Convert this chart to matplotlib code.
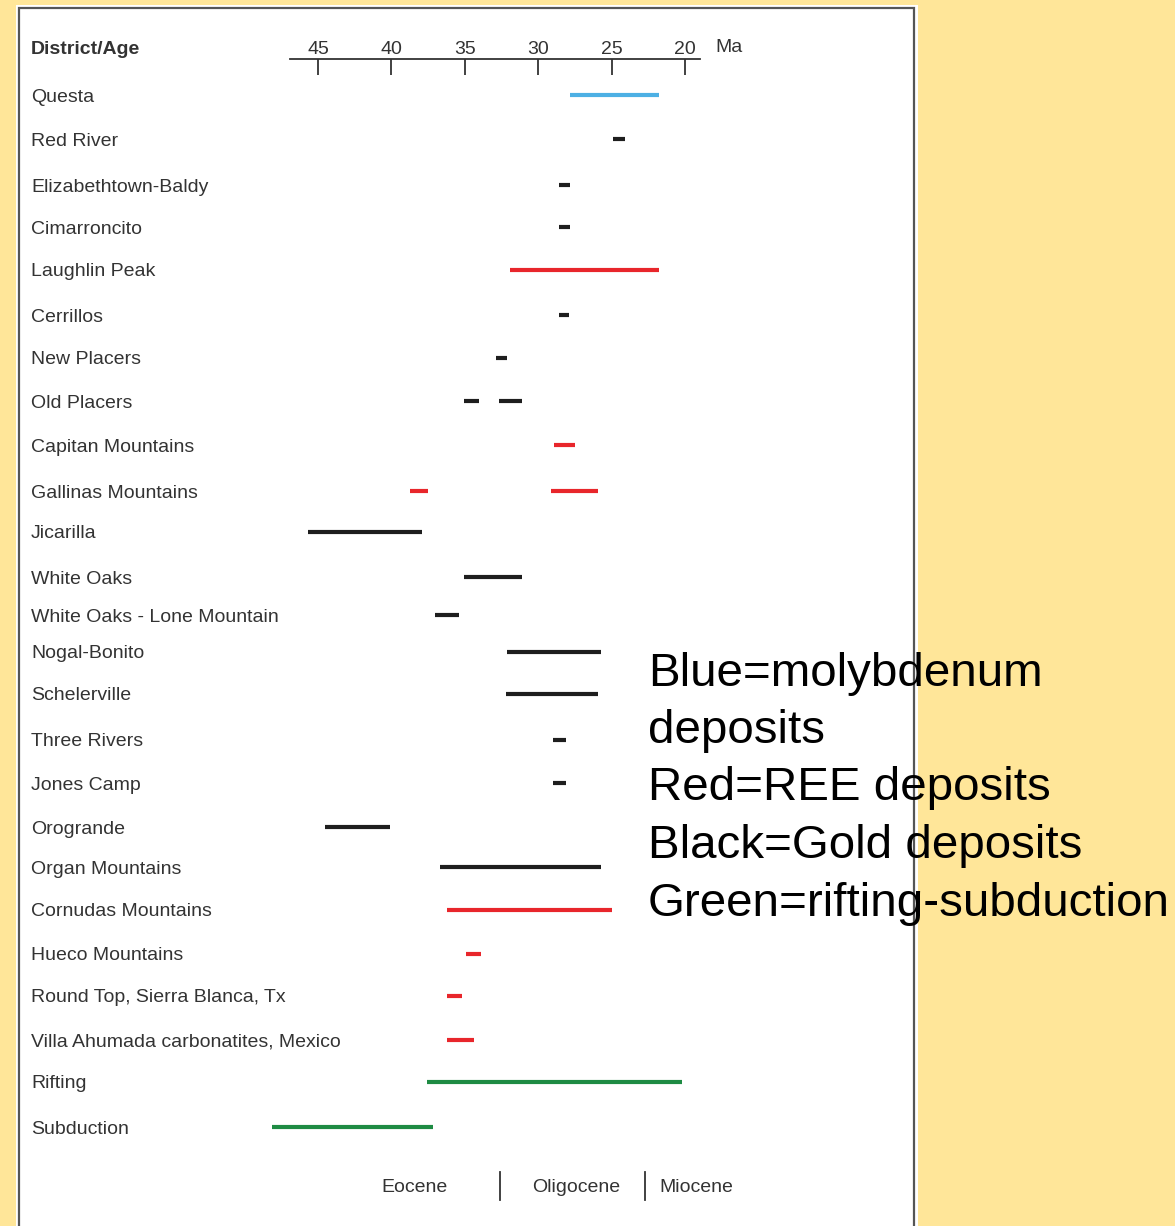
import matplotlib
matplotlib.use("Agg")
import matplotlib.pyplot as plt
from matplotlib.patches import Rectangle
from matplotlib import transforms

# ---------------- data ----------------
districts = [
    "Questa", "Red River", "Elizabethtown-Baldy", "Cimarroncito", "Laughlin Peak",
    "Cerrillos", "New Placers", "Old Placers", "Capitan Mountains", "Gallinas Mountains",
    "Jicarilla", "White Oaks", "White Oaks - Lone Mountain", "Nogal-Bonito", "Schelerville",
    "Three Rivers", "Jones Camp", "Orogrande", "Organ Mountains", "Cornudas Mountains",
    "Hueco Mountains", "Round Top, Sierra Blanca, Tx", "Villa Ahumada carbonatites, Mexico",
    "Rifting", "Subduction",
]

seg_district = [
    "Questa", "Red River", "Elizabethtown-Baldy", "Cimarroncito", "Laughlin Peak",
    "Cerrillos", "New Placers", "Old Placers", "Old Placers", "Capitan Mountains",
    "Gallinas Mountains", "Gallinas Mountains", "Jicarilla", "White Oaks",
    "White Oaks - Lone Mountain", "Nogal-Bonito", "Schelerville", "Three Rivers",
    "Jones Camp", "Orogrande", "Organ Mountains", "Cornudas Mountains", "Hueco Mountains",
    "Round Top, Sierra Blanca, Tx", "Villa Ahumada carbonatites, Mexico", "Rifting", "Subduction",
]
seg_old = [27.8, 24.9, 28.6, 28.6, 31.9,
           28.6, 32.9, 35.05, 32.7, 28.9,
           38.7, 29.1, 45.7, 35.05,
           37.0, 32.1, 32.2, 29.0,
           29.0, 44.5, 36.7, 36.2, 34.9,
           36.2, 36.2, 37.6, 48.1]
seg_young = [21.8, 24.1, 27.8, 27.8, 21.8,
             27.9, 32.1, 34.0, 31.1, 27.5,
             37.5, 25.9, 37.9, 31.1,
             35.4, 25.7, 25.9, 28.1,
             28.1, 40.1, 25.7, 25.0, 33.9,
             35.2, 34.4, 20.2, 37.2]
seg_type = ["Mo", "Au", "Au", "Au", "REE",
            "Au", "Au", "Au", "Au", "REE",
            "REE", "REE", "Au", "Au",
            "Au", "Au", "Au", "Au",
            "Au", "Au", "Au", "REE", "REE",
            "REE", "REE", "Tect", "Tect"]

age_ticks = [45, 40, 35, 30, 25, 20]
epochs = ["Eocene", "Oligocene", "Miocene"]
epoch_centers = [38.4, 27.4, 19.2]
epoch_bounds = [32.6, 22.7]

legend_lines = ["Blue=molybdenum", "deposits", "Red=REE deposits",
                "Black=Gold deposits", "Green=rifting-subduction"]

# ---------------- layout / styles ----------------
type_color = {"Mo": "#4DB0E4", "REE": "#E8262B", "Au": "#1E1E1E", "Tect": "#1E8B43"}
BG = "#FFE699"
TXT = "#333333"
FONT = "Liberation Sans"
FS = 14

W, H = 1175, 1226
# vertical layout of rows (pixel from top)
row_px = [95, 139, 185, 227, 270, 315, 358, 401, 445, 491, 532, 577, 615, 652, 694,
          740, 783, 827, 867, 910, 954, 996, 1040, 1082, 1127]
LABEL_DY = 2

fig = plt.figure(figsize=(W / 100, H / 100), dpi=100)
fig.patch.set_facecolor(BG)

PX_PER_MA = 14.68
X45 = 318.0

def px_to_ma(px):
    return 45 - (px - X45) / PX_PER_MA

# white panel
fig.patches.append(Rectangle((16 / W, 0), (918 - 16) / W, (H - 5) / H,
                             transform=fig.transFigure, facecolor="white",
                             edgecolor="none", zorder=-5))
fig.patches.append(Rectangle((19.5 / W, -0.05), (913.5 - 19.5) / W, (H - 8) / H + 0.05,
                             transform=fig.transFigure, facecolor="none",
                             edgecolor="#555555", linewidth=1.6, zorder=-4))

ax = fig.add_axes([0, 0, 1, 1])
ax.set_facecolor("none")
ax.axis("off")
ax.set_xlim(px_to_ma(0), px_to_ma(W))
ax.set_ylim(H, 0)

row_of = {d: row_px[i] for i, d in enumerate(districts)}

for d, o, y, t in zip(seg_district, seg_old, seg_young, seg_type):
    r = row_of[d]
    ax.plot([o, y], [r, r], color=type_color[t], lw=3.0, solid_capstyle="butt", zorder=3)

# district labels
lab_tr = transforms.blended_transform_factory(fig.transFigure, ax.transData)
for d in districts:
    ax.text(31 / W, row_of[d] + LABEL_DY, d, transform=lab_tr, fontsize=FS, family=FONT,
            color=TXT, ha="left", va="center")

fig.text(31 / W, 1 - 49 / H, "District/Age", fontsize=FS, family=FONT,
         fontweight="bold", color=TXT, ha="left", va="center")

# top age axis
axa = fig.add_axes([290 / W, 1 - 75 / H, (700 - 290) / W, 16 / H])
axa.set_facecolor("none")
axa.set_xlim(px_to_ma(290), px_to_ma(700))
axa.set_ylim(0, 1)
for s in ["left", "right", "bottom"]:
    axa.spines[s].set_visible(False)
axa.spines["top"].set_color("#333333")
axa.spines["top"].set_linewidth(1.3)
axa.set_yticks([])
axa.set_xticks(age_ticks)
axa.set_xticklabels([str(a) for a in age_ticks])
axa.xaxis.set_ticks_position("top")
axa.xaxis.set_label_position("top")
axa.tick_params(axis="x", direction="in", length=11.5, width=1.3, color="#333333",
                labelsize=FS, labelcolor=TXT, pad=1)
for lbl in axa.get_xticklabels():
    lbl.set_fontfamily(FONT)
fig.text(715 / W, 1 - 48 / H, "Ma", fontsize=FS, family=FONT, color=TXT,
         ha="left", va="center")

# epochs at bottom
ep_tr = transforms.blended_transform_factory(ax.transData, fig.transFigure)
for name, c in zip(epochs, epoch_centers):
    ax.text(c, 1 - 1188 / H, name, transform=ep_tr, fontsize=FS, family=FONT,
            color=TXT, ha="center", va="center")
for b in epoch_bounds:
    ax.plot([b, b], [1 - 1172 / H, 1 - 1200 / H], transform=ep_tr, color="#333333", lw=1.3)

# legend text block
legend_y = [674, 731, 788, 846, 904]
for s, yy in zip(legend_lines, legend_y):
    fig.text(648 / W, 1 - yy / H, s, fontsize=34.2, family=FONT, color="black",
             ha="left", va="center", zorder=10)

fig.savefig("out.png", dpi=100, facecolor=BG)
